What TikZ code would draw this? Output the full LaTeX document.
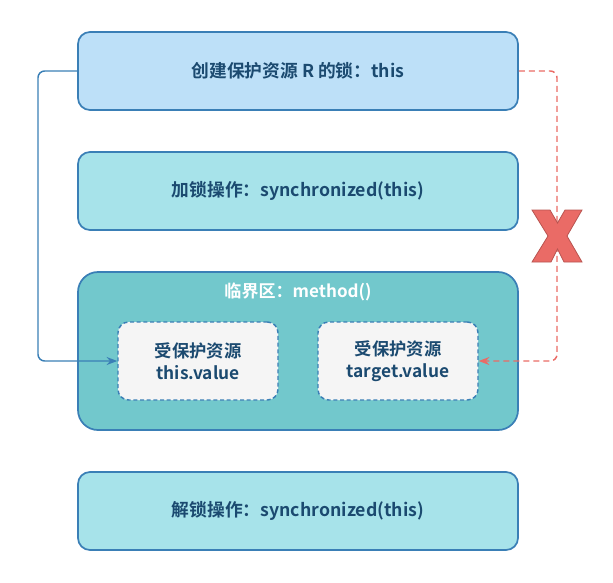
\documentclass[tikz,border=0pt]{standalone}
\usepackage{fontspec}
\setmainfont{Noto Sans CJK SC}[BoldFont={* Bold}]
\newfontfamily\cjkb{Noto Sans CJK SC Bold}
\usetikzlibrary{arrows.meta}
\definecolor{txt}{HTML}{1B4A70}
\definecolor{strk}{HTML}{3A7FB6}
\definecolor{fillA}{HTML}{BDE0F8}
\definecolor{fillB}{HTML}{A7E3EA}
\definecolor{fillC}{HTML}{72C8CC}
\definecolor{fillD}{HTML}{F5F5F5}
\definecolor{redl}{HTML}{EA6B66}
\definecolor{redd}{HTML}{B85450}
\tikzset{
  boxst/.style={draw=strk, line width=1.3pt, rounded corners=9pt, minimum width=330pt, minimum height=58.5pt, inner sep=0pt, font=\cjkb\fontsize{13.3}{15}\selectfont, text=txt},
  innerst/.style={draw=strk, dashed, dash pattern=on 3pt off 2pt, line width=1.1pt, fill=fillD, rounded corners=8pt, minimum width=120pt, minimum height=58.5pt, inner sep=0pt, font=\cjkb\fontsize{13}{16.5}\selectfont, text=txt, align=center},
  bluecon/.style={draw=strk, line width=1.1pt, rounded corners=5pt, -{Stealth[length=8pt,width=6pt]}},
  redcon/.style={draw=redl, line width=1.1pt, dashed, dash pattern=on 4.5pt off 3pt, rounded corners=5pt, -{Stealth[length=8pt,width=6pt]}}
}
\begin{document}
\begin{tikzpicture}[x=0.75pt,y=-0.75pt]
\useasboundingbox (0,0) rectangle (613,582);
\node[boxst, fill=fillA] (b1) at (298,71) {创建保护资源 R 的锁：this};
\node[boxst, fill=fillB] (b2) at (298,191) {加锁操作：synchronized(this)};
\node[boxst, fill=fillC, minimum height=118.5pt, rounded corners=15pt] (b3) at (298,351) {};
\node[font=\cjkb\fontsize{12.8}{15}\selectfont, text=white] (t3) at (298,292) {临界区：method()};
\node[innerst] (i1) at (198,361) {受保护资源\\this.value};
\node[innerst] (i2) at (398,361) {受保护资源\\target.value};
\node[boxst, fill=fillB] (b4) at (298,511) {解锁操作：synchronized(this)};
\coordinate (l1) at (38,71);
\coordinate (l2) at (38,361);
\coordinate (r1) at (557,71);
\coordinate (r2) at (557,361);
\draw[bluecon] (b1.west) -- (l1) -- (l2) -- (i1.west);
\draw[redcon] (b1.east) -- (r1) -- (r2) -- (i2.east);
\fill[redl, draw=redd, line width=0.6pt] (532,210) -- (550,210) -- (557.5,223) -- (565,210) -- (582,210) -- (567,236) -- (582,262) -- (564,262) -- (557.5,249) -- (551,262) -- (532,262) -- (548,236) -- cycle;
\end{tikzpicture}
\end{document}
